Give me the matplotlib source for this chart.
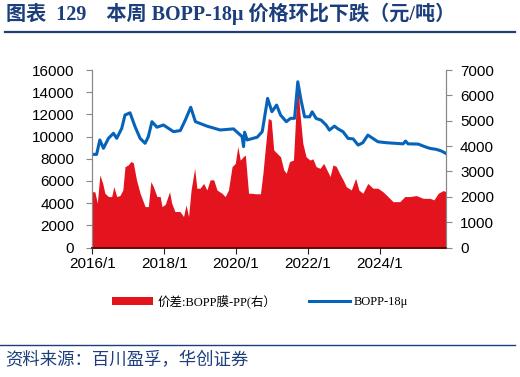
import numpy as np
import matplotlib
matplotlib.use("Agg")
import matplotlib.pyplot as plt
from matplotlib.patches import Patch
from matplotlib.lines import Line2D

# BOPP-18μ price (left axis), decimal year / value
bopp_t = [2016.00, 2016.12, 2016.21, 2016.31, 2016.45, 2016.59, 2016.68, 2016.82, 2016.91,
          2017.05, 2017.19, 2017.33, 2017.47, 2017.56, 2017.66, 2017.80, 2017.98, 2018.26,
          2018.45, 2018.59, 2018.74, 2018.87, 2019.19, 2019.56, 2019.93, 2020.17, 2020.21,
          2020.24, 2020.31, 2020.59, 2020.73, 2020.88, 2021.00, 2021.13, 2021.24, 2021.40,
          2021.52, 2021.63, 2021.72, 2021.81, 2021.91, 2022.05, 2022.12, 2022.23, 2022.37,
          2022.51, 2022.60, 2022.74, 2022.84, 2022.98, 2023.12, 2023.26, 2023.40, 2023.53,
          2023.67, 2023.81, 2023.95, 2024.19, 2024.47, 2024.65, 2024.72, 2024.79, 2025.07,
          2025.26, 2025.40, 2025.58, 2025.72, 2025.84]
bopp_v = [8400, 8400, 9700, 8950, 9850, 10300, 9850, 10750, 11950,
          12150, 10900, 9850, 9400, 10000, 11350, 10850, 11050, 10450,
          10550, 11500, 12650, 11350, 10950, 10600, 10700, 10000, 9100,
          10400, 9700, 9950, 10450, 13450, 12250, 12850, 11950, 11350,
          11650, 11650, 14950, 13290, 11790, 11790, 12240, 11640, 11490,
          11040, 10590, 10950, 10700, 10440, 9840, 9800, 9240, 9450,
          10140, 9840, 9540, 9450, 9390, 9350, 9600, 9350, 9330,
          9090, 8940, 8850, 8700, 8490]

# price spread BOPP film - PP (right axis)
spread_t = [2016.00, 2016.07, 2016.14, 2016.21, 2016.29, 2016.35, 2016.45, 2016.54, 2016.60,
            2016.68, 2016.77, 2016.85, 2016.91, 2017.00, 2017.07, 2017.14, 2017.23, 2017.33,
            2017.47, 2017.56, 2017.63, 2017.70, 2017.80, 2017.89, 2017.94, 2018.03, 2018.15,
            2018.21, 2018.30, 2018.44, 2018.54, 2018.61, 2018.68, 2018.75, 2018.85, 2018.91,
            2019.00, 2019.10, 2019.19, 2019.28, 2019.38, 2019.47, 2019.61, 2019.70, 2019.79,
            2019.89, 2019.98, 2020.05, 2020.12, 2020.20, 2020.26, 2020.31, 2020.35, 2020.45,
            2020.54, 2020.68, 2020.75, 2020.82, 2020.90, 2020.98, 2021.05, 2021.14, 2021.24,
            2021.33, 2021.40, 2021.49, 2021.60, 2021.67, 2021.72, 2021.78, 2021.86, 2021.95,
            2022.06, 2022.14, 2022.23, 2022.34, 2022.44, 2022.53, 2022.62, 2022.70, 2022.79,
            2022.88, 2022.98, 2023.07, 2023.21, 2023.33, 2023.42, 2023.53, 2023.67, 2023.81,
            2023.95, 2024.09, 2024.23, 2024.37, 2024.56, 2024.70, 2024.84, 2025.02, 2025.21,
            2025.40, 2025.51, 2025.63, 2025.77, 2025.84]
spread_v = [2200, 2200, 1750, 2860, 2530, 2140, 2010, 2010, 2400,
            2010, 2050, 2270, 3190, 3260, 3390, 3350, 2670, 2140,
            1615, 1615, 2600, 2400, 2010, 2010, 1615, 1700, 2200,
            1750, 1420, 1420, 1220, 1680, 1220, 2270, 3125, 2340,
            2340, 2530, 2270, 2670, 2670, 2270, 2140, 2010, 2270,
            3190, 3320, 3980, 3450, 3580, 3650, 2800, 2140, 2140,
            2120, 2120, 2930, 3980, 5090, 5030, 3850, 3720, 3580,
            3060, 2930, 3390, 3450, 5420, 6540, 5290, 4110, 3580,
            3450, 3500, 3190, 3125, 3320, 3060, 2800, 3260, 3200,
            2930, 2670, 2400, 2270, 2730, 2270, 2140, 2530, 2340,
            2340, 2200, 2010, 1810, 1810, 2010, 2010, 2050, 1940,
            1940, 1880, 2140, 2250, 2200]

xtick_pos = [2016, 2018, 2020, 2022, 2024]
xtick_lab = ["2016/1", "2018/1", "2020/1", "2022/1", "2024/1"]

red = "#E3141E"
blue = "#0563BA"
navy = "#1C3E7C"
latin_cjk_serif = ["Liberation Serif", "Noto Sans CJK SC"]
sans = ["Liberation Sans", "DejaVu Sans"]

fig = plt.figure(figsize=(5.2, 3.77), dpi=100)
ax = fig.add_axes([0.1775, 0.3435, 0.6805, 0.4705])
ax2 = ax.twinx()

ax2.fill_between(spread_t, spread_v, 0, color=red, linewidth=0)
ax2.set_ylim(0, 7000)
ax2.set_yticks(np.arange(0, 7001, 1000))

ax.plot(bopp_t, bopp_v, color=blue, linewidth=2.2)
ax.set_ylim(0, 16000)
ax.set_yticks(np.arange(0, 16001, 2000))
ax.set_xlim(2016.0, 2025.85)
ax.set_xticks(xtick_pos)
ax.set_xticklabels(xtick_lab)

ax.set_zorder(ax2.get_zorder() + 1)
ax.patch.set_visible(False)

for a in (ax, ax2):
    a.spines["top"].set_visible(False)
    a.spines["left"].set_color("#888888")
    a.spines["right"].set_color("#888888")
    a.spines["bottom"].set_color("#5a0a0a")
    a.spines["bottom"].set_linewidth(1.2)
ax.tick_params(axis="y", colors="#888888", labelcolor="black", length=4,
               labelsize=11, pad=9)
ax2.tick_params(axis="y", colors="#888888", labelcolor="black", length=4,
                labelsize=11, pad=6)
ax.tick_params(axis="x", length=4, labelsize=11, color="#222222", pad=3)
for lab in ax.get_xticklabels() + ax.get_yticklabels() + ax2.get_yticklabels():
    lab.set_family(sans)

handles = [Patch(facecolor=red, edgecolor="none"),
           Line2D([], [], color=blue, linewidth=2.2)]
labels = ["价差:BOPP膜-PP(右）", "BOPP-18μ"]
fig.legend(handles, labels, loc="center", bbox_to_anchor=(0.5, 0.2), ncol=2,
           frameon=False, prop={"family": latin_cjk_serif, "size": 9},
           handlelength=3.3, handleheight=0.6, columnspacing=2.6, handletextpad=0.35)

fig.text(0.012, 0.962, "图表  129    本周 BOPP-18μ 价格环比下跌（元/吨）",
         family=latin_cjk_serif, weight="bold", size=14.5, color=navy,
         va="center", ha="left")
fig.add_artist(Line2D([0.01, 0.99], [0.915, 0.915], color=navy, linewidth=1.6))
fig.add_artist(Line2D([0.0, 0.99], [0.085, 0.085], color=navy, linewidth=1.0))
fig.text(0.01, 0.045, "资料来源：百川盈孚，华创证券", family=["Noto Sans CJK SC"],
         size=12.5, color=navy, va="center", ha="left", style="italic")

fig.savefig("out.png", dpi=100)
